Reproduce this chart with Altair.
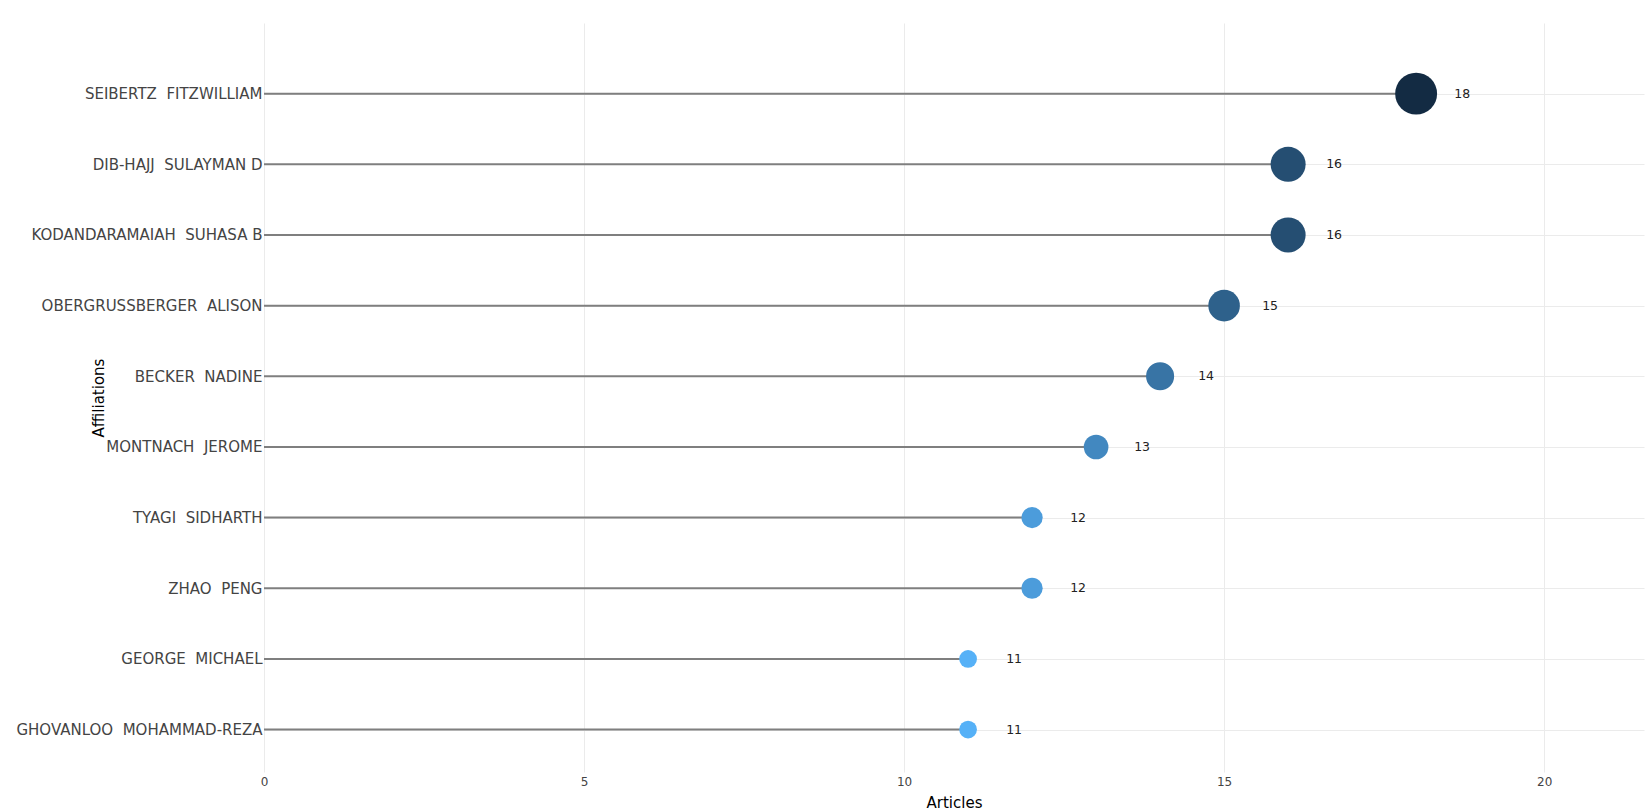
import json
import altair as alt
import pandas as pd

# Data, top row first
names = [
    "SEIBERTZ  FITZWILLIAM",
    "DIB-HAJJ  SULAYMAN D",
    "KODANDARAMAIAH  SUHASA B",
    "OBERGRUSSBERGER  ALISON",
    "BECKER  NADINE",
    "MONTNACH  JEROME",
    "TYAGI  SIDHARTH",
    "ZHAO  PENG",
    "GEORGE  MICHAEL",
    "GHOVANLOO  MOHAMMAD-REZA",
]
articles = [18, 16, 16, 15, 14, 13, 12, 12, 11, 11]
x_ticks = [0, 5, 10, 15, 20]

n = len(names)
df = pd.DataFrame({
    "Affiliation": names,
    "Articles": articles,
    "rank": [n - 1 - i for i in range(n)],
})

# labels indexed by rank (bottom = 0); keep double spaces visible
labels_by_rank = [nm.replace("  ", "\u00a0 ") for nm in reversed(names)]
label_expr = json.dumps(labels_by_rank, ensure_ascii=False) + "[datum.value]"

FONT = "DejaVu Sans"

x_enc = alt.X(
    "Articles:Q",
    scale=alt.Scale(domain=[0, 21.56], nice=False, zero=False),
    axis=alt.Axis(
        values=x_ticks, format="d", title="Articles", grid=True, gridColor="#ebebeb",
        domain=False, ticks=False, labelPadding=4, labelFontSize=12, labelFlush=False,
        labelColor="#444444", labelFont=FONT, titleFont=FONT, titleFontSize=15,
        titleFontWeight="normal", titleColor="#000000", titleBaseline="middle",
        titleY=30, titleX=690,
    ),
)
y_enc = alt.Y(
    "rank:Q",
    scale=alt.Scale(domain=[-0.6, 10], nice=False, zero=False),
    axis=alt.Axis(
        values=list(range(n)), labelExpr=label_expr, labelLimit=0, title="Affiliations",
        grid=True, gridColor="#ebebeb", domain=False, ticks=False, labelFlush=False,
        labelPadding=2, labelFontSize=15, labelColor="#444444", labelFont=FONT,
        titleFont=FONT, titleFontSize=15, titleFontWeight="normal",
        titleColor="#000000", titleX=-166, titleY=374.5, titleAngle=-90,
        titleBaseline="middle", titleAlign="center",
    ),
)

base = alt.Chart(df)

stems = base.mark_rule(color="#7f7f7f", strokeWidth=2).encode(
    x=alt.X("zero:Q", scale=alt.Scale(domain=[0, 21.56], nice=False, zero=False)),
    x2="Articles:Q",
    y=y_enc,
).transform_calculate(zero="0")

points = base.transform_calculate(sz="datum.Articles - 5.87").mark_circle(opacity=1).encode(
    x=x_enc,
    y=y_enc,
    size=alt.Size("sz:Q", scale=alt.Scale(type="pow", exponent=2, domain=[0, 12.13], range=[0, 1757]), legend=None),
    color=alt.Color(
        "Articles:Q",
        scale=alt.Scale(domain=[11, 18], range=["#56B1F7", "#132B43"], interpolate="lab"),
        legend=None,
    ),
)

texts = base.mark_text(dx=46, align="center", baseline="middle", font=FONT, fontSize=12.5, color="#222222").encode(
    x=x_enc,
    y=y_enc,
    text="Articles:Q",
)

chart = alt.layer(stems, points, texts).properties(
    width=1380,
    height=749,
    autosize=alt.AutoSizeParams(type="none"),
    padding={"left": 264, "top": 23, "right": 6, "bottom": 38},
).configure_view(stroke=None)

chart.save("out.html", embed_options={"renderer": "svg", "actions": False})
